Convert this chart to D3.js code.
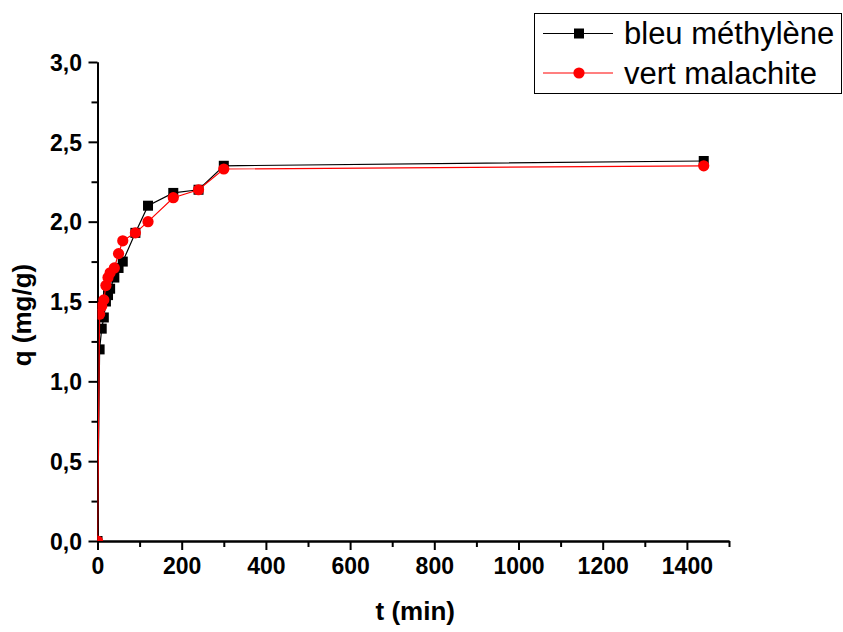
<!DOCTYPE html>
<html>
<head>
<meta charset="utf-8">
<script src="https://cdn.jsdelivr.net/npm/d3@7"></script>
<style>
  html, body { margin: 0; padding: 0; background: #fff; }
  svg { display: block; font-family: "Liberation Sans", Arial, sans-serif; }
</style>
</head>
<body>
<svg id="chart" width="843" height="632"></svg>
<script>
// Contact time (min)
const times = [0, 5, 10, 15, 20, 25, 30, 40, 50, 60, 90, 120, 180, 240, 300, 1440];
// Adsorbed quantity q (mg/g) for each dye
const bleuMethylene = [0, 1.20, 1.33, 1.40, 1.50, 1.54, 1.58, 1.65, 1.71, 1.75, 1.93, 2.10, 2.18, 2.20, 2.35, 2.38];
const vertMalachite = [0, 1.42, 1.47, 1.51, 1.60, 1.65, 1.68, 1.71, 1.80, 1.88, 1.93, 2.00, 2.15, 2.20, 2.33, 2.35];
const seriesNames = ["bleu méthylène", "vert malachite"];
const xTicks = [0, 200, 400, 600, 800, 1000, 1200, 1400];
const xMinor = [100, 300, 500, 700, 900, 1100, 1300, 1500];
const yTicks = [0, 0.5, 1.0, 1.5, 2.0, 2.5, 3.0];
const yMinor = [0.25, 0.75, 1.25, 1.75, 2.25, 2.75];

const svg = d3.select("#chart");
const x = d3.scaleLinear().domain([0, 1500]).range([97.5, 729]);
const y = d3.scaleLinear().domain([0, 3]).range([541, 62]);

const fmtY = v => d3.format(".1f")(v).replace(".", ",");

// clip marks to the plotting area
svg.append("defs").append("clipPath").attr("id", "plot")
  .append("rect")
  .attr("x", x(0)).attr("y", y(3) - 6)
  .attr("width", x(1500) - x(0) + 6).attr("height", y(0) - y(3) + 6);

// minor ticks
const gxm = svg.append("g").attr("transform", `translate(0,${y(0)})`)
  .call(d3.axisBottom(x).tickValues(xMinor).tickSize(6).tickSizeOuter(0).tickFormat(""));
const gym = svg.append("g").attr("transform", `translate(${x(0)},0)`)
  .call(d3.axisLeft(y).tickValues(yMinor).tickSize(6).tickSizeOuter(0).tickFormat(""));

// major axes
const gx = svg.append("g").attr("transform", `translate(0,${y(0)})`)
  .call(d3.axisBottom(x).tickValues(xTicks).tickSize(9).tickSizeOuter(0).tickPadding(8).tickFormat(d3.format("d")));
const gy = svg.append("g").attr("transform", `translate(${x(0)},0)`)
  .call(d3.axisLeft(y).tickValues(yTicks).tickSize(9).tickSizeOuter(0).tickPadding(6).tickFormat(fmtY));

[gx, gy, gxm, gym].forEach(g => {
  g.selectAll("path.domain").attr("stroke", "#000").attr("stroke-width", 2);
  g.selectAll(".tick line").attr("stroke", "#000").attr("stroke-width", 2);
});

gx.selectAll(".tick text")
  .attr("font-family", "Liberation Sans, Arial, sans-serif")
  .attr("font-size", 23).attr("font-weight", "bold").attr("fill", "#000");

gy.selectAll(".tick text")
  .attr("font-family", "Liberation Sans, Arial, sans-serif")
  .attr("font-size", 23).attr("font-weight", "bold").attr("fill", "#000")
  .attr("x", -15.5).attr("dy", "0.36em");

// axis titles
svg.append("text")
  .attr("transform", `translate(${(x(0) + x(1500)) / 2 + 2},620)`)
  .attr("text-anchor", "middle").attr("font-size", 26).attr("font-weight", "bold")
  .text("t (min)");

svg.append("text")
  .attr("transform", `translate(31,315) rotate(-90)`)
  .attr("text-anchor", "middle").attr("font-size", 26).attr("font-weight", "bold")
  .text("q (mg/g)");

// series
const plot = svg.append("g").attr("clip-path", "url(#plot)");
const line = d3.line().x(d => x(d[0])).y(d => y(d[1]));

const bmData = times.map((t, i) => [t, bleuMethylene[i]]);
const vmData = times.map((t, i) => [t, vertMalachite[i]]);

plot.append("path").datum(bmData).attr("d", line)
  .attr("fill", "none").attr("stroke", "#000").attr("stroke-width", 1.2);
plot.selectAll("rect.bm").data(bmData).enter().append("rect").attr("class", "bm")
  .attr("x", d => x(d[0]) - 5).attr("y", d => y(d[1]) - 5)
  .attr("width", 10).attr("height", 10).attr("fill", "#000");

plot.append("path").datum(vmData).attr("d", line)
  .attr("fill", "none").attr("stroke", "#ff0000").attr("stroke-width", 1.2);
plot.selectAll("circle.vm").data(vmData).enter().append("circle").attr("class", "vm")
  .attr("cx", d => x(d[0])).attr("cy", d => y(d[1])).attr("r", 5.6)
  .attr("fill", "#ff0000");

// legend
const lg = svg.append("g");
lg.append("rect").attr("x", 534.5).attr("y", 13.5).attr("width", 307).attr("height", 80)
  .attr("fill", "#fff").attr("stroke", "#000").attr("stroke-width", 1);
const rowY = [33.5, 73];
// bleu méthylène row
lg.append("line").attr("x1", 543).attr("x2", 613).attr("y1", rowY[0]).attr("y2", rowY[0])
  .attr("stroke", "#000").attr("stroke-width", 1.2);
lg.append("rect").attr("x", 574).attr("y", rowY[0] - 5).attr("width", 10).attr("height", 10).attr("fill", "#000");
// vert malachite row
lg.append("line").attr("x1", 543).attr("x2", 613).attr("y1", rowY[1]).attr("y2", rowY[1])
  .attr("stroke", "#ff0000").attr("stroke-width", 1.2);
lg.append("circle").attr("cx", 579).attr("cy", rowY[1]).attr("r", 5.6).attr("fill", "#ff0000");

lg.selectAll("text.lab").data(seriesNames).enter().append("text").attr("class", "lab")
  .attr("x", 624).attr("y", (d, i) => rowY[i] + 10.5)
  .attr("font-size", 31).attr("fill", "#000")
  .text(d => d);
</script>
</body>
</html>
